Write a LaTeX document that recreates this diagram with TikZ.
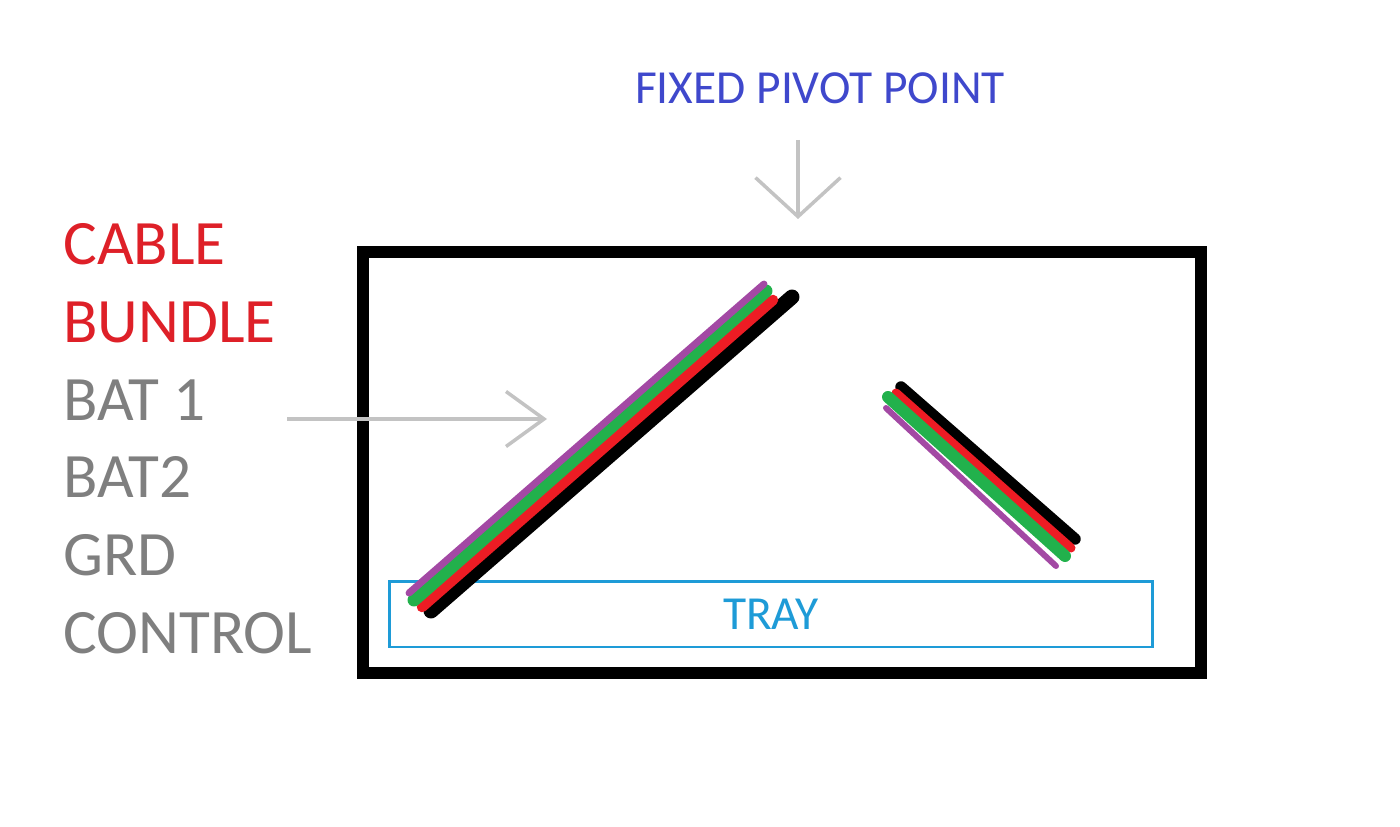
\documentclass[tikz,border=0pt]{standalone}
\usepackage{fontspec}
\setmainfont{Carlito}
\usepackage{xcolor}
\usepackage{tikz}
\usetikzlibrary{positioning}
\usetikzlibrary{arrows.meta}
\definecolor{labelred}{RGB}{222,32,40}
\definecolor{labelgray}{RGB}{127,127,127}
\definecolor{pivotblue}{RGB}{63,72,204}
\definecolor{trayblue}{RGB}{30,155,215}
\definecolor{arrowgray}{RGB}{195,195,195}
\definecolor{wirepurple}{RGB}{163,73,164}
\definecolor{wiregreen}{RGB}{34,177,76}
\definecolor{wirered}{RGB}{237,28,36}

\begin{document}
\begin{tikzpicture}[x=0.02cm, y=-0.02cm]
    % Styles:
    \tikzset{lbl/.style={inner sep=0pt, text height=0.8cm, text depth=0pt, font=\fontsize{36}{43}\selectfont}}
    \tikzset{small/.style={inner sep=0pt, font=\fontsize{27}{32}\selectfont}}
    \tikzset{pointer/.style={draw=arrowgray, line width=2pt}}
    \tikzset{wire/.style={line cap=round}}
    \tikzset{node distance = 0.74cm}
    \useasboundingbox (0,0) rectangle (1400,827);

    % Frame and tray:
    \draw[line width=0.23cm] (363,252) rectangle (1201,673);
    \node[small, draw=trayblue, text=trayblue, line width=1.7pt, minimum width=15.28cm, minimum height=1.32cm] (tray) at (771,614) {TRAY};

    % Labels:
    \node[lbl, labelred, anchor=south west] (cable) at (63,265) {CABLE};
    \node[lbl, labelred, below=of cable.south west, anchor=north west] (bundle) {BUNDLE};
    \node[lbl, labelgray, below=of bundle.south west, anchor=north west] (bat1) {BAT 1};
    \node[lbl, labelgray, below=of bat1.south west, anchor=north west] (bat2) {BAT2};
    \node[lbl, labelgray, below=of bat2.south west, anchor=north west] (grd) {GRD};
    \node[lbl, labelgray, below=of grd.south west, anchor=north west] (control) {CONTROL};
    \node[small, text=pivotblue] (pivot) at (820,88) {FIXED PIVOT POINT};

    % Arrows:
    \coordinate (pivottail) at (798,140);
    \coordinate (pivottip)  at (798,219);
    \coordinate (bundletail) at (287,419);
    \coordinate (bundletip)  at (547,419);
    \draw[pointer, -{Straight Barb[length=0.78cm, width=1.7cm]}] (pivottail) -- (pivottip);
    \draw[pointer, -{Straight Barb[length=0.76cm, width=1.1cm]}] (bundletail) -- (bundletip);

    % Cable bundle, left half:
    \draw[wire, line width=0.3cm, black]       (431,611) -- (792,297);
    \draw[wire, line width=0.21cm, wirered]    (422,607) -- (773,300);
    \draw[wire, line width=0.26cm, wiregreen]  (414,600) -- (766,291);
    \draw[wire, line width=0.14cm, wirepurple] (409,593) -- (764,284);

    % Cable bundle, right half:
    \draw[wire, line width=0.23cm, black]      (901,387) -- (1075,539);
    \draw[wire, line width=0.18cm, wirered]    (896,393) -- (1071,548);
    \draw[wire, line width=0.24cm, wiregreen]  (888,397) -- (1065,556);
    \draw[wire, line width=0.12cm, wirepurple] (886,408) -- (1056,566);
\end{tikzpicture}
\end{document}
